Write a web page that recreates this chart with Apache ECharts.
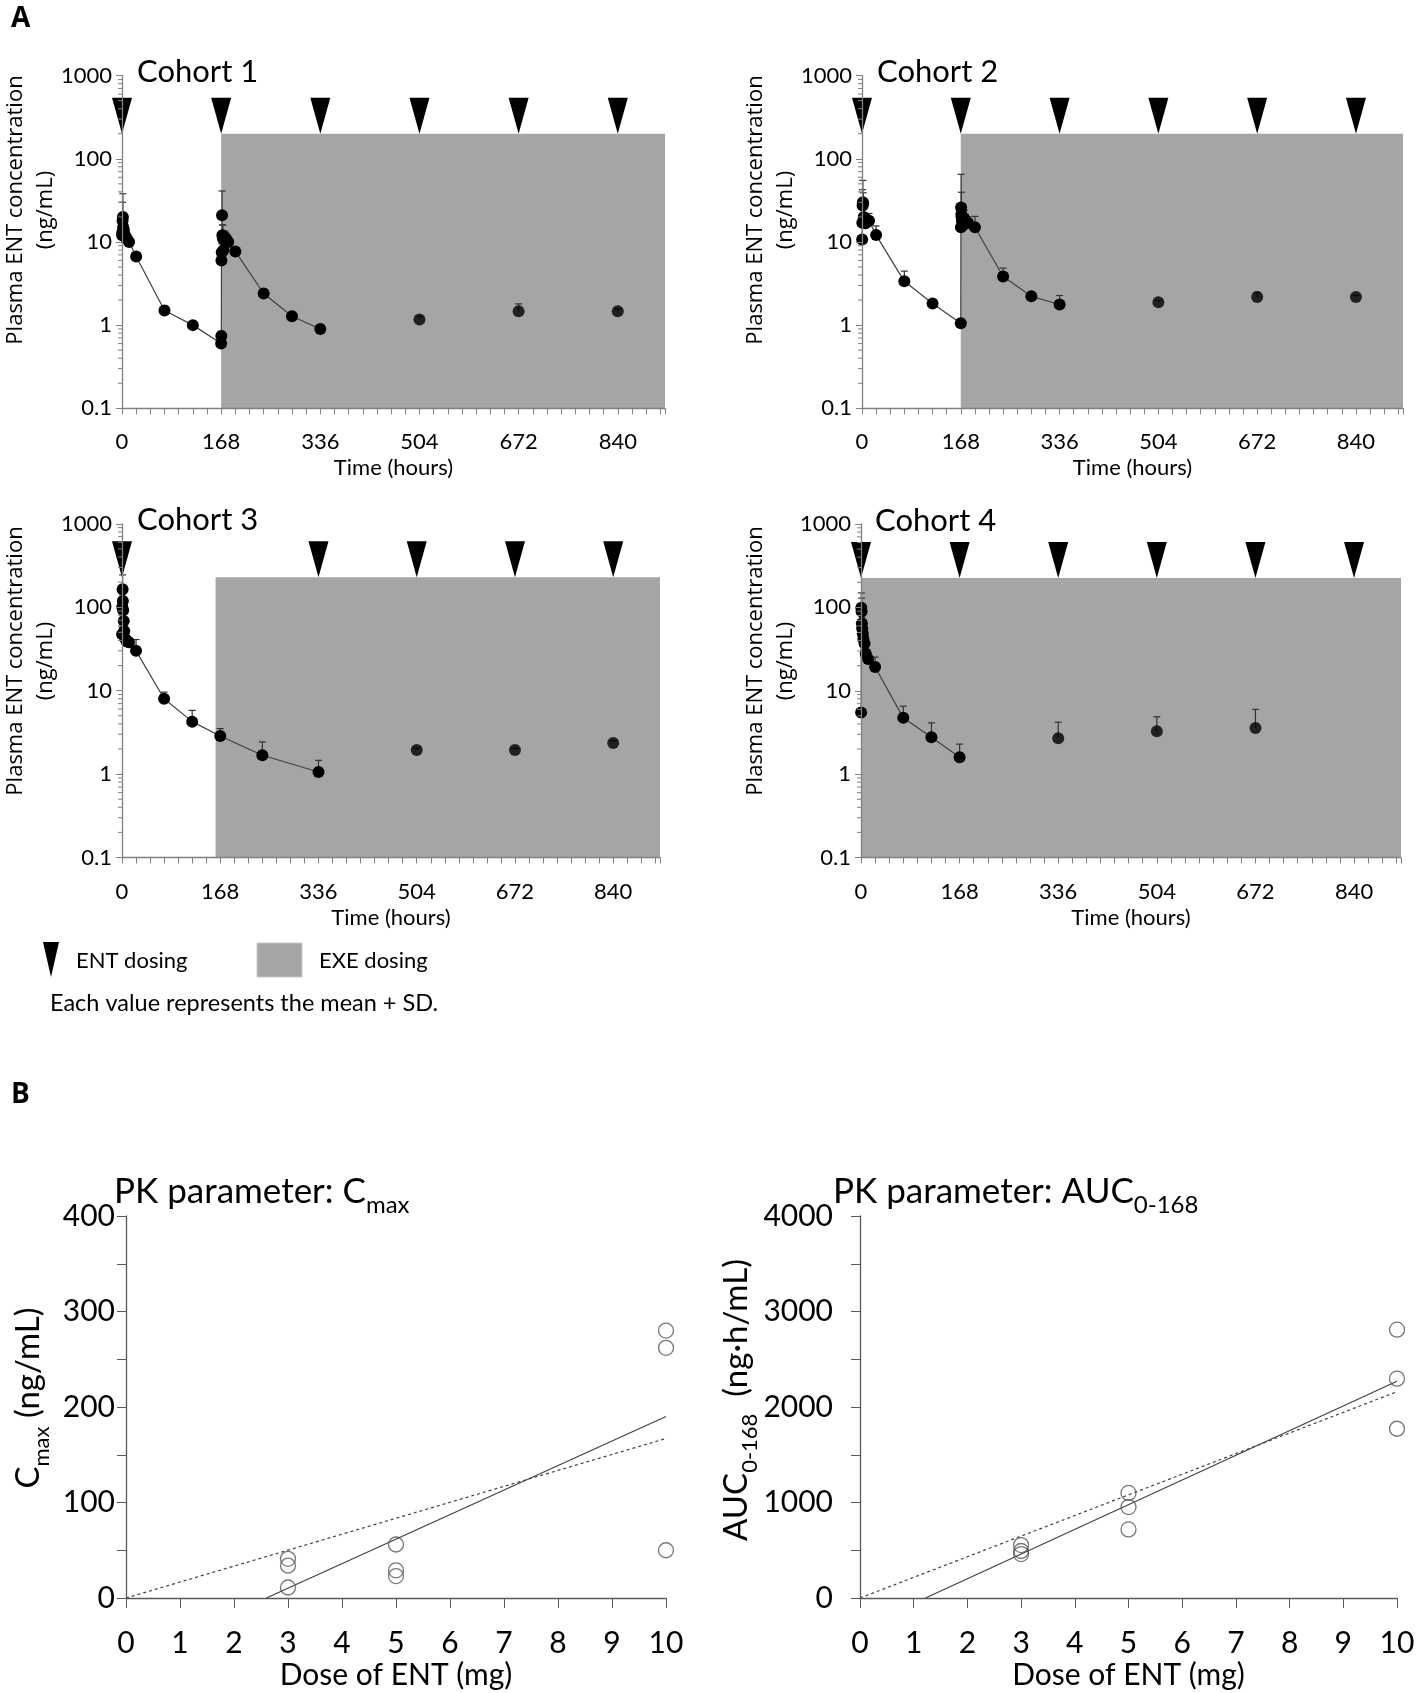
<!DOCTYPE html>
<html><head><meta charset="utf-8">
<script src="https://cdn.jsdelivr.net/npm/echarts@6/dist/echarts.min.js"></script>
<style>html,body{margin:0;padding:0;background:#fff}#c{width:1418px;height:1693px}</style>
</head><body><div id="c"></div><script>
// ---------- DATA ----------
const profTimes2 = [0.25,0.5,1,1.5,2,3,4,6,8,12,24,72,120,168,168.25,168.5,169,169.5,170,171,172,174,176,180,192,240,288,336];
const c1Mean = [12,13,18,20,15,14,12.5,11.5,11,10,6.7,1.5,1.0,0.6,0.74,6.0,7.5,21,12,11,8,10.5,11,10,7.7,2.4,1.28,0.9];
const c1SD   = [3,4,12,18,7,4,3,2,2,1.5,0.8,0.2,0.1,0.1,0.1,1.5,2,20,4,5,2,3,2,1.5,0.8,0.3,0.15,0.1];
const c2Mean = [10.7,17,27.5,30,29,20,18.5,16.8,18.2,18,12.1,3.36,1.82,1.05,15,26,21.6,19.8,18,17,16,19,17.5,17,15,3.85,2.22,1.77];
const c2SD   = [1,3,15,25,10,5,3,2,3,4,3.5,1.1,0.15,0.15,2,39,18,5,4,3,4,5,4,3,5.3,1,0.2,0.5];
const c3Times = [0.25,0.5,1,1.5,2,3,4,6,8,12,24,72,120,168,240,336];
const c3Mean = [47.5,101,164,119,92,68.5,52,41.5,38.8,38,30,8.0,4.25,2.86,1.68,1.06];
const c3SD   = [10,40,80,50,30,20,12,8,5,5,11,1.6,1.55,0.65,0.75,0.4];
const c4Times = [0.25,0.5,1,1.5,2,3,4,6,8,12,24,72,120,168];
const c4Mean = [5.5,99,89,64,56,48.5,42,37,28,24,19.3,4.73,2.77,1.59];
const c4SD   = [0.5,50,40,30,20,15,10,8,5,4,6,1.8,1.35,0.7];

const troughTimes123 = [504,672,840];
const c1TroughMean = [1.17,1.47,1.47];  const c1TroughSD = [0.1,0.33,0.1];
const c2TroughMean = [1.88,2.18,2.18];  const c2TroughSD = [0.1,0.3,0.1];
const c3TroughMean = [1.94,1.94,2.36];  const c3TroughSD = [0.12,0.1,0.15];
const c4TroughTimes = [336,504,672];
const c4TroughMean = [2.69,3.27,3.58];  const c4TroughSD = [1.5,1.6,2.4];

const entDoseTimes1 = [0,168,336,504,672,840];
const entDoseTimes2 = [0,168,336,504,672,840];
const entDoseTimes3 = [0,336,504,672,840];
const entDoseTimes4 = [0,168,336,504,672,840];
// EXE dosing period: [start h, end h, upper conc]
const exe1 = [168,920,200];
const exe2 = [168,920,200];
const exe3 = [160,920,228];
const exe4 = [0,920,225];

const cohortNames = ['Cohort 1','Cohort 2','Cohort 3','Cohort 4'];
const logMinorTicks = [0.2,0.3,0.4,0.5,0.6,0.7,0.8,0.9,2,3,4,5,6,7,8,9,20,30,40,50,60,70,80,90,200,300,400,500,600,700,800,900];

const doses = [3,3,3,5,5,5,10,10,10];
const cmaxVals = [41,34,11,56,29,23,280,262,50];
const aucVals = [554,492,460,1100,952,718,2810,2297,1772];
const cmaxFitLine = [[2.6,0],[10,190]];
const cmaxPropLine = [[0,0],[10,167]];
const aucFitLine = [[1.22,0],[10,2270]];
const aucPropLine = [[0,0],[10,2160]];

// ---------- BUILD ----------
const CAL = 'Lato, "Liberation Sans", sans-serif';
const SEG = '"Open Sans", "Noto Sans", sans-serif';
const Y_MIN = 0.1, Y_MAX = 1000, X_MAX = 920;

const grids = [
  {left:122, top:75.6, width:543, height:332.7},
  {left:862, top:75.6, width:541, height:332.7},
  {left:122, top:523.8, width:538, height:333.7},
  {left:861, top:524, width:540, height:333.5},
  {left:126, top:1216, width:540, height:382},
  {left:860, top:1216, width:537, height:382}
];

const xAxes = [], yAxes = [], series = [];
for (let i = 0; i < 4; i++) {
  xAxes.push({gridIndex:i, type:'value', min:0, max:X_MAX, interval:24, z:6,
    name:'Time (hours)', nameLocation:'middle', nameGap:49,
    nameTextStyle:{fontFamily:CAL, fontSize:22, color:'#000'},
    axisLine:{lineStyle:{color:'#808080', width:1.3}},
    axisTick:{length:6, lineStyle:{color:'#808080'}},
    axisLabel:{fontFamily:CAL, fontSize:22, color:'#000', margin:23,
      formatter:v => (v % 168 === 0 ? String(v) : '')},
    splitLine:{show:false}});
  yAxes.push({gridIndex:i, type:'log', logBase:10, min:Y_MIN, max:Y_MAX, z:6,
    axisLine:{show:true, lineStyle:{color:'#808080', width:1.3}},
    axisTick:{show:true, length:6, lineStyle:{color:'#808080'}},
    axisLabel:{fontFamily:CAL, fontSize:22, color:'#000', margin:10, formatter:v => String(+v.toPrecision(3))},
    splitLine:{show:false}});
}
[4,5].forEach(gi => xAxes.push({gridIndex:gi, type:'value', min:0, max:10, interval:1, z:6,
  name:'Dose of ENT (mg)', nameLocation:'middle', nameGap:62,
  nameTextStyle:{fontFamily:CAL, fontSize:30, color:'#000'},
  axisLine:{lineStyle:{color:'#595959', width:1.3}}, axisTick:{length:10, lineStyle:{color:'#595959'}},
  axisLabel:{fontFamily:CAL, fontSize:30, color:'#000', margin:30}, splitLine:{show:false}}));
yAxes.push({gridIndex:4, type:'value', min:0, max:400, interval:50, z:6,
  axisLine:{show:true, lineStyle:{color:'#595959', width:1.3}}, axisTick:{show:true, length:9, lineStyle:{color:'#595959'}},
  axisLabel:{fontFamily:CAL, fontSize:30, color:'#000', margin:11, formatter:v => (v % 100 === 0 ? String(v) : '')},
  splitLine:{show:false}});
yAxes.push({gridIndex:5, type:'value', min:0, max:4000, interval:500, z:6,
  axisLine:{show:true, lineStyle:{color:'#595959', width:1.3}}, axisTick:{show:true, length:9, lineStyle:{color:'#595959'}},
  axisLabel:{fontFamily:CAL, fontSize:30, color:'#000', margin:27, formatter:v => (v % 1000 === 0 ? String(v) : '')},
  splitLine:{show:false}});

const zip2 = (a, b) => a.map((v, k) => [v, b[k]]);
const zip3 = (a, b, c) => a.map((v, k) => [v, b[k], c[k]]);

const panels = [
  {times:profTimes2, mean:c1Mean, sd:c1SD, tt:troughTimes123, tm:c1TroughMean, ts:c1TroughSD, dose:entDoseTimes1, exe:exe1},
  {times:profTimes2, mean:c2Mean, sd:c2SD, tt:troughTimes123, tm:c2TroughMean, ts:c2TroughSD, dose:entDoseTimes2, exe:exe2},
  {times:c3Times, mean:c3Mean, sd:c3SD, tt:troughTimes123, tm:c3TroughMean, ts:c3TroughSD, dose:entDoseTimes3, exe:exe3},
  {times:c4Times, mean:c4Mean, sd:c4SD, tt:c4TroughTimes, tm:c4TroughMean, ts:c4TroughSD, dose:entDoseTimes4, exe:exe4}
];

function errRender(params, api) {
  const t = api.value(0), m = api.value(1), s = api.value(2);
  if (!(s > 0)) return null;
  const p0 = api.coord([t, m]), p1 = api.coord([t, m + s]);
  const st = {stroke:'#333', lineWidth:1.2};
  return {type:'group', children:[
    {type:'line', shape:{x1:p0[0], y1:p0[1], x2:p1[0], y2:p1[1]}, style:st},
    {type:'line', shape:{x1:p1[0]-3.5, y1:p1[1], x2:p1[0]+3.5, y2:p1[1]}, style:st}
  ]};
}

panels.forEach((p, i) => {
  series.push({type:'custom', xAxisIndex:i, yAxisIndex:i, z:1, silent:true,
    data:[p.exe],
    renderItem:(params, api) => {
      const a = api.coord([api.value(0), api.value(2)]);
      const b = api.coord([api.value(1), Y_MIN]);
      return {type:'rect', shape:{x:a[0], y:a[1], width:b[0]-a[0], height:b[1]-a[1]}, style:{fill:'#a5a5a5'}};
    }});
  series.push({type:'custom', xAxisIndex:i, yAxisIndex:i, z:3, silent:true,
    data:p.dose.map(t => [t, p.exe[2]]),
    renderItem:(params, api) => {
      const c = api.coord([api.value(0), api.value(1)]);
      return {type:'polygon', shape:{points:[[c[0]-10, c[1]-36],[c[0]+10, c[1]-36],[c[0], c[1]]]}, style:{fill:'#000'}};
    }});
  series.push({type:'custom', xAxisIndex:i, yAxisIndex:i, z:6, silent:true,
    data:logMinorTicks.map(v => [0, v]),
    renderItem:(params, api) => {
      const c = api.coord([0, api.value(1)]);
      return {type:'line', shape:{x1:c[0]-4, y1:c[1], x2:c[0], y2:c[1]}, style:{stroke:'#808080', lineWidth:1}};
    }});
  series.push({type:'custom', xAxisIndex:i, yAxisIndex:i, z:4, silent:true,
    data:zip3(p.times, p.mean, p.sd).concat(zip3(p.tt, p.tm, p.ts)), renderItem:errRender});
  series.push({type:'line', xAxisIndex:i, yAxisIndex:i, z:5, data:zip2(p.times, p.mean),
    symbol:'circle', symbolSize:12, showSymbol:true, itemStyle:{color:'#000'},
    lineStyle:{color:'#404040', width:1.2}});
  series.push({type:'scatter', xAxisIndex:i, yAxisIndex:i, z:5, data:zip2(p.tt, p.tm),
    symbol:'circle', symbolSize:12, itemStyle:{color:'#000'}});
});

[[cmaxVals, cmaxFitLine, cmaxPropLine, 4], [aucVals, aucFitLine, aucPropLine, 5]].forEach(([vals, fit, prop, gi]) => {
  series.push({type:'line', xAxisIndex:gi, yAxisIndex:gi, z:3, data:prop, showSymbol:false, symbol:'none',
    lineStyle:{color:'#404040', width:1.2, type:[3,3]}});
  series.push({type:'line', xAxisIndex:gi, yAxisIndex:gi, z:3, data:fit, showSymbol:false, symbol:'none',
    lineStyle:{color:'#404040', width:1.2}});
  series.push({type:'scatter', xAxisIndex:gi, yAxisIndex:gi, z:4, data:zip2(doses, vals), symbol:'circle', symbolSize:15,
    itemStyle:{color:'rgba(255,255,255,0)', borderColor:'#555', borderWidth:1.3}});
});

const graphic = [
  {type:'text', x:11, y:5, style:{text:'A', font:'bold 28px ' + SEG, fill:'#000'}},
  {type:'text', x:11, y:1081, style:{text:'B', font:'bold 28px ' + SEG, fill:'#000'}},
  {type:'text', x:137, y:72, style:{text:cohortNames[0], font:'31px ' + CAL, fill:'#000', verticalAlign:'middle'}},
  {type:'text', x:877, y:72, style:{text:cohortNames[1], font:'31px ' + CAL, fill:'#000', verticalAlign:'middle'}},
  {type:'text', x:137, y:520, style:{text:cohortNames[2], font:'31px ' + CAL, fill:'#000', verticalAlign:'middle'}},
  {type:'text', x:875, y:521, style:{text:cohortNames[3], font:'31px ' + CAL, fill:'#000', verticalAlign:'middle'}}
];
[[31,210],[771,210],[31,661],[771,661]].forEach(([x, y]) => {
  graphic.push({type:'text', x:x, y:y, rotation:Math.PI/2,
    style:{text:'Plasma ENT concentration\n(ng/mL)', font:'22px ' + SEG, lineHeight:30, fill:'#000', align:'center', verticalAlign:'middle'}});
});
graphic.push({type:'polygon', shape:{points:[[43,942],[59,942],[51,977]]}, style:{fill:'#000'}});
graphic.push({type:'text', x:76, y:961, style:{text:'ENT dosing', font:'22px ' + CAL, fill:'#000', verticalAlign:'middle'}});
graphic.push({type:'rect', shape:{x:257, y:943, width:45, height:34}, style:{fill:'#a5a5a5', stroke:'#c8c8c8', lineWidth:1}});
graphic.push({type:'text', x:319, y:961, style:{text:'EXE dosing', font:'22px ' + CAL, fill:'#000', verticalAlign:'middle'}});
graphic.push({type:'text', x:50, y:1003, style:{text:'Each value represents the mean + SD.', font:'23.5px ' + CAL, fill:'#000', verticalAlign:'middle'}});
const richMain = {fontFamily:CAL, fontSize:35, lineHeight:42, verticalAlign:'bottom', fill:'#000'};
const richSub = {fontFamily:CAL, fontSize:24, lineHeight:42, verticalAlign:'bottom', fill:'#000', padding:[0,0,-8,0]};
graphic.push({type:'text', x:114, y:1188, style:{text:'{a|PK parameter: C}{s|max}', rich:{a:richMain, s:richSub}, verticalAlign:'middle'}});
graphic.push({type:'text', x:833, y:1188, style:{text:'{a|PK parameter: AUC}{s|0-168}', rich:{a:richMain, s:richSub}, verticalAlign:'middle'}});
const richYMain = {fontFamily:CAL, fontSize:33, lineHeight:38, verticalAlign:'bottom', fill:'#000'};
const richYSub = {fontFamily:CAL, fontSize:22, lineHeight:38, verticalAlign:'bottom', fill:'#000', padding:[0,0,-8,0]};
graphic.push({type:'text', x:26, y:1398, rotation:Math.PI/2, style:{text:'{a|C}{s|max}{a| (ng/mL)}', rich:{a:richYMain, s:richYSub}, align:'center', verticalAlign:'middle'}});
graphic.push({type:'text', x:734, y:1400, rotation:Math.PI/2, style:{text:'{a|AUC}{s|0-168}{a|  (ng·h/mL)}', rich:{a:richYMain, s:richYSub}, align:'center', verticalAlign:'middle'}});

const chart = echarts.init(document.getElementById('c'), null, {renderer:'canvas'});
chart.setOption({animation:false, backgroundColor:'#fff', grid:grids, xAxis:xAxes, yAxis:yAxes, series:series, graphic:graphic});
</script></body></html>
